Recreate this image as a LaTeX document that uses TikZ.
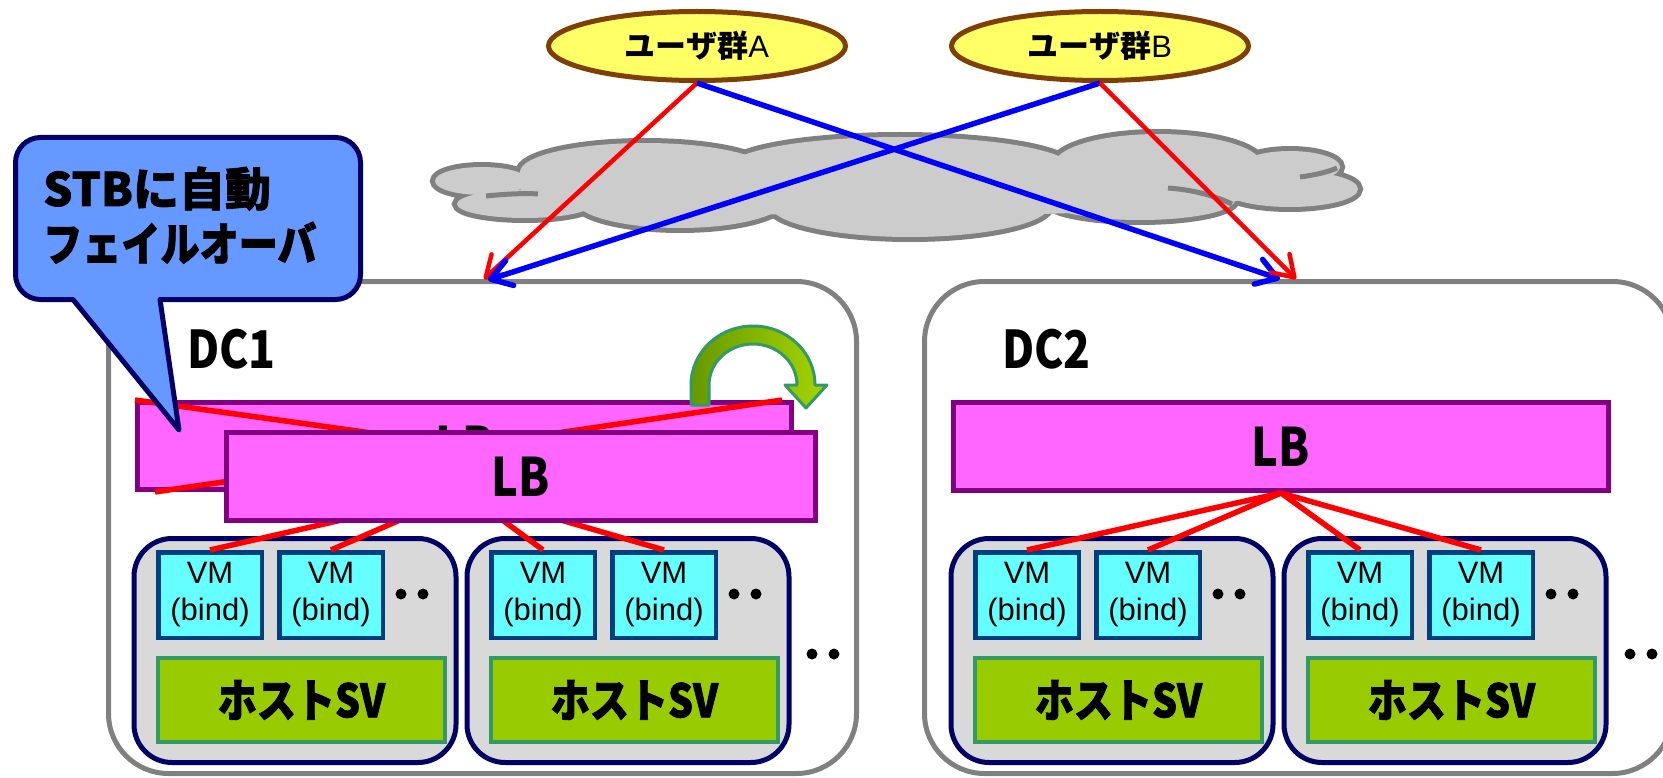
\documentclass[tikz,border=0pt]{standalone}
\usepackage{fontspec}
\setmainfont{Liberation Sans}
\newfontfamily\jp{Noto Sans CJK JP}
\newfontfamily\jpc{Noto Sans CJK JP}[FakeStretch=0.85]
\newfontfamily\jpk{Noto Sans CJK JP}[FakeBold=1.5]
\newfontfamily\jpkc{Noto Sans CJK JP}[FakeStretch=0.85,FakeBold=1.5]
\usetikzlibrary{arrows.meta,shapes.geometric}
\definecolor{cloudline}{HTML}{808080}
\definecolor{cloudfill}{HTML}{CCCCCC}
\definecolor{dcline}{HTML}{808080}
\definecolor{lbfill}{HTML}{FF66FF}
\definecolor{lbline}{HTML}{800080}
\definecolor{grpfill}{HTML}{D9D9D9}
\definecolor{grpline}{HTML}{000066}
\definecolor{vmfill}{HTML}{66FFFF}
\definecolor{vmline}{HTML}{003F7F}
\definecolor{hostfill}{HTML}{99CC00}
\definecolor{hostline}{HTML}{339966}
\definecolor{userfill}{HTML}{FFFF66}
\definecolor{userline}{HTML}{7F3F00}
\definecolor{calloutfill}{HTML}{6699FF}
\definecolor{calloutline}{HTML}{000066}
\definecolor{arrowL}{HTML}{669900}
\definecolor{arrowR}{HTML}{A6D600}
\definecolor{arrowline}{HTML}{339966}
\begin{document}
\begin{tikzpicture}[x=1pt,y=-1pt,
  dcbox/.style={draw=dcline, line width=5pt, fill=white, rounded corners=60pt, inner sep=0pt},
  dclabel/.style={font=\jpc\bfseries\fontsize{52pt}{56pt}\selectfont, inner sep=0pt},
  lbbox/.style={draw=lbline, fill=lbfill, line width=5pt, inner sep=0pt, font=\jpc\bfseries\fontsize{53pt}{56pt}\selectfont},
  grp/.style={draw=grpline, fill=grpfill, line width=5pt, minimum width=322pt, minimum height=224pt, rounded corners=38pt, inner sep=0pt},
  vm/.style={draw=vmline, fill=vmfill, line width=4.5pt, minimum width=103.5pt, minimum height=85.5pt, inner sep=0pt, align=center, font=\fontsize{31pt}{37pt}\selectfont},
  host/.style={draw=hostline, fill=hostfill, line width=4pt, minimum width=287pt, minimum height=84pt, inner sep=0pt, font=\jpkc\bfseries\fontsize{46pt}{50pt}\selectfont},
  dotmark/.style={circle, fill=black, minimum size=11pt, inner sep=0pt},
  redline/.style={draw=red, line width=5.5pt},
  user/.style={ellipse, draw=userline, fill=userfill, line width=5pt, minimum width=297pt, minimum height=69pt, inner sep=0pt, font=\fontsize{31pt}{34pt}\selectfont},
  redarr/.style={draw=red, line width=4.5pt, -{Straight Barb[length=20pt,width=26pt,round]}},
  bluearr/.style={draw=blue, line width=5.5pt, -{Straight Barb[length=20pt,width=26pt,round]}},
  callout/.style={draw=calloutline, fill=calloutfill, line width=5pt, line join=round},
  cotext/.style={inner sep=0pt, anchor=base west}
]
\useasboundingbox (0,0) rectangle (1663,778);
\clip (0,0) rectangle (1663,778);

% cloud
\foreach \cx/\cy/\rx/\ry in {482/181/47/14, 525/204/68/14, 645/172/125/29, 900/168/172/31, 1158/165/104/31, 1290/167/50/16, 1290/189/68/18, 1140/200/95/20, 910/205/140/32, 680/200/105/28}
  \path[draw=cloudline, line width=10pt] (\cx,\cy) ellipse [x radius=\rx, y radius=\ry];
\foreach \cx/\cy/\rx/\ry in {482/181/47/14, 525/204/68/14, 645/172/125/29, 900/168/172/31, 1158/165/104/31, 1290/167/50/16, 1290/189/68/18, 1140/200/95/20, 910/205/140/32, 680/200/105/28, 900/188/380/28}
  \path[fill=cloudfill] (\cx,\cy) ellipse [x radius=\rx, y radius=\ry];
\draw[cloudline, line width=5pt] (486,196) .. controls (505,194) and (525,193) .. (538,194);
\draw[cloudline, line width=5pt] (1168,188) .. controls (1195,190) and (1215,196) .. (1232,204);
\draw[cloudline, line width=5pt] (1300,177) .. controls (1315,175) and (1328,172) .. (1337,168);

% data centres
\node[dcbox, minimum width=748pt, minimum height=492pt] (dc1) at (482.5,527.5) {};
\node[dcbox, minimum width=748pt, minimum height=492pt] (dc2) at (1298.5,527.5) {};
\node[dclabel, anchor=base west] (dc1l) at (187,368) {DC1};
\node[dclabel, anchor=base west] (dc2l) at (1002,368) {DC2};

% failed LB (back)
\node[lbbox, minimum width=654pt, minimum height=87pt] (lbback) at (464.5,446) {LB};
\draw[redline] (lbback.north west) -- (lbback.south east);
\draw[redline] ([xshift=-12pt]lbback.north east) -- ([xshift=20pt]lbback.south west);

% curved failover arrow
\shadedraw[left color=arrowL, right color=arrowR, draw=arrowline, line width=3pt, line join=round]
  (691,405) -- (691,385) arc[start angle=180, end angle=360, x radius=62, y radius=59]
  -- (827,385) -- (806,408) -- (785,385) -- (797,385)
  arc[start angle=360, end angle=180, x radius=44, y radius=41] -- (709,405) -- cycle;

% host groups
\foreach \g/\gl in {a/134, b/467, c/951, d/1284}{
  \node[grp] (g\g) at (\gl+161,650.5) {};
  \node[vm] (\g1) at (\gl+76,595) {VM\\(bind)};
  \node[vm] (\g2) at (\gl+197,595) {VM\\(bind)};
  \node[host] (h\g) at (\gl+167.5,700) {ホストSV};
  \node[dotmark] (p\g1) at (\gl+267,594) {};
  \node[dotmark] (p\g2) at (\gl+289,594) {};
}
\node[dotmark] (q1) at (812,654) {};
\node[dotmark] (q2) at (834,654) {};
\node[dotmark] (q3) at (1630,654) {};
\node[dotmark] (q4) at (1652,654) {};

% LB of DC2
\node[lbbox, minimum width=655pt, minimum height=88pt] (lb2) at (1281,446.5) {LB};

% LB to VM lines
\foreach \v in {a1,a2,b1,b2} \draw[redline] (lbback.south) -- (\v.north);
\foreach \v in {c1,c2,d1,d2} \draw[redline] (lb2.south) -- (\v.north);

% standby LB (front)
\node[lbbox, minimum width=589pt, minimum height=88pt] (lbfront) at (521,476.5) {LB};

% users
\node[user] (ua) at (697,46) {{\jp\bfseries ユーザ群}A};
\node[user] (ub) at (1100,46) {{\jp\bfseries ユーザ群}B};
\coordinate (inA1) at (484,279);
\coordinate (inB1) at (488,280);
\coordinate (inA2) at (1280,279);
\coordinate (inB2) at (1296,279);
\draw[redarr] (ua.south) -- (inA1);
\draw[bluearr] (ua.south) -- (inA2);
\draw[bluearr] (ub.south) -- (inB1);
\draw[redarr] (ub.south) -- (inB2);

% callout
\path[callout] (15.5,220) [rounded corners=25pt] -- (15.5,137.5) -- (360.5,137.5) -- (360.5,299.5)
  [sharp corners] -- (160,299.5) -- (179,430) -- (73,299.5) [rounded corners=25pt] -- (15.5,299.5) [sharp corners] -- cycle;
\node[cotext, font=\jpk\bfseries\fontsize{46pt}{50pt}\selectfont] (co1) at (43,206) {STBに自動};
\node[cotext, font=\jpkc\bfseries\fontsize{46pt}{50pt}\selectfont] (co2) at (43,261) {フェイルオーバ};
\end{tikzpicture}
\end{document}
